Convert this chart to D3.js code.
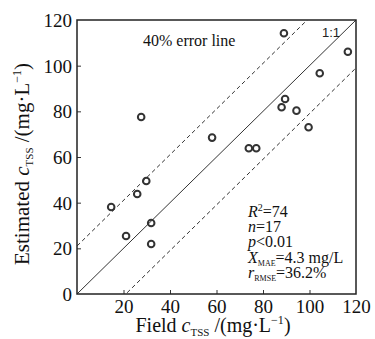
<!DOCTYPE html>
<html>
<head>
<meta charset="utf-8">
<script src="https://cdn.jsdelivr.net/npm/d3@7"></script>
</head>
<body style="margin:0;background:#fff">
<svg id="chart" width="375" height="339" font-family="Liberation Serif" style="font-family:'Liberation Serif',serif"></svg>
<script>
// field (measured) vs estimated TSS, mg/L
const fieldVals = [14.7, 21.1, 25.9, 27.6, 29.8, 31.9, 31.9, 58.1, 73.9, 77.1, 88.0, 89.5, 94.4, 99.6, 104.4, 116.5, 89.0];
const estVals   = [38.1, 25.4, 43.8, 77.5, 49.5, 31.1, 21.9, 68.5, 63.8, 63.8, 81.8, 85.4, 80.3, 73.0, 96.7, 106.1, 114.2];
const xTicks = [20, 40, 60, 80, 100, 120];
const yTicks = [0, 20, 40, 60, 80, 100, 120];
const errorOffset = 21;
const statLines = [
  ['R', '2', 'sup', '=74'],
  ['n', '', '', '=17'],
  ['p', '', '', '<0.01'],
  ['X', 'MAE', 'sub', '=4.3 mg/L'],
  ['r', 'RMSE', 'sub', '=36.2%']
];

const serif = "'Liberation Serif', serif";
const svg = d3.select('#chart');
const mLeft = 77, mRight = 356, mTop = 20, mBottom = 294;

const x = d3.scaleLinear().domain([0, 120]).range([mLeft, mRight]);
const y = d3.scaleLinear().domain([0, 120]).range([mBottom, mTop]);

const g = svg.append('g');

// clip so the diagonal lines stop at the frame
svg.append('defs').append('clipPath').attr('id', 'plotClip')
  .append('rect').attr('x', mLeft).attr('y', mTop)
  .attr('width', mRight - mLeft).attr('height', mBottom - mTop);

const lines = g.append('g').attr('clip-path', 'url(#plotClip)');
const line = d3.line().x(d => x(d[0])).y(d => y(d[1]));

lines.append('path')
  .attr('d', line([[0, 0], [120, 120]]))
  .attr('stroke', '#333').attr('stroke-width', 1).attr('fill', 'none');
[errorOffset, -errorOffset].forEach(off => {
  lines.append('path')
    .attr('d', line([[-30, -30 + off], [150, 150 + off]]))
    .attr('stroke', '#333').attr('stroke-width', 1)
    .attr('stroke-dasharray', '4,3').attr('fill', 'none');
});

// axes, inward ticks
const xAxis = d3.axisBottom(x).tickValues(xTicks).tickSizeInner(-4).tickSizeOuter(0).tickPadding(6);
const yAxis = d3.axisLeft(y).tickValues(yTicks).tickSizeInner(-4).tickSizeOuter(0).tickPadding(5);

const gx = g.append('g').attr('transform', `translate(0,${mBottom})`).call(xAxis);
const gy = g.append('g').attr('transform', `translate(${mLeft},0)`).call(yAxis);
[gx, gy].forEach(a => {
  a.attr('font-family', null).attr('font-size', 19);
  a.select('.domain').remove();
  a.selectAll('line').attr('stroke', '#333');
  a.selectAll('text').attr('fill', '#111').style('font-family', serif);
});
gx.selectAll('.tick').filter(d => d === 120).select('line').remove();
gy.selectAll('.tick').filter(d => d === 0 || d === 120).select('line').remove();
gx.selectAll('text').attr('dy', '0.71em');
gy.selectAll('text').attr('dy', '0.35em');

// frame
g.append('rect')
  .attr('x', mLeft).attr('y', mTop)
  .attr('width', mRight - mLeft).attr('height', mBottom - mTop)
  .attr('fill', 'none').attr('stroke', '#222').attr('stroke-width', 1.5);

// points
g.append('g').selectAll('circle')
  .data(fieldVals.map((v, i) => [v, estVals[i]]))
  .join('circle')
  .attr('cx', d => x(d[0])).attr('cy', d => y(d[1]))
  .attr('r', 3.3)
  .attr('fill', 'none').attr('stroke', '#333').attr('stroke-width', 2);

// annotations
g.append('text').attr('x', 143).attr('y', 46).attr('font-size', 16).attr('fill', '#111')
  .style('font-family', serif).text('40% error line');
g.append('text').attr('x', 322).attr('y', 37).attr('font-size', 13)
  .style('font-family', "'Liberation Sans', sans-serif").attr('fill', '#222').text('1:1');

const stats = g.append('text').attr('font-size', 16).attr('fill', '#111').style('font-family', serif);
statLines.forEach((s, i) => {
  stats.append('tspan').attr('x', 248).attr('y', 217 + i * 15.2)
    .attr('font-style', 'italic').text(s[0]);
  if (s[2] === 'sup') {
    stats.append('tspan').attr('font-size', 10).attr('dy', -6).text(s[1]);
    stats.append('tspan').attr('dy', 6).text(s[3]);
  } else if (s[2] === 'sub') {
    stats.append('tspan').attr('font-size', 8).attr('dy', 3).text(s[1]);
    stats.append('tspan').attr('dy', -3).text(s[3]);
  } else {
    stats.append('tspan').text(s[3]);
  }
});

// axis titles
function unitTitle(sel, lead) {
  sel.append('tspan').text(lead);
  sel.append('tspan').attr('font-style', 'italic').text('c');
  sel.append('tspan').attr('font-size', 11).attr('dy', 4).text('TSS');
  sel.append('tspan').attr('dy', -4).text(' /(mg\u00b7L');
  sel.append('tspan').attr('font-size', 12).attr('dy', -8).text('\u22121');
  sel.append('tspan').attr('dy', 8).text(')');
}
unitTitle(svg.append('text').attr('x', 213).attr('y', 332).attr('fill', '#111')
  .style('font-family', serif).attr('text-anchor', 'middle').attr('font-size', 20), 'Field ');
unitTitle(svg.append('text').attr('transform', 'translate(29,164) rotate(-90)').attr('fill', '#111')
  .style('font-family', serif).attr('text-anchor', 'middle').attr('font-size', 21), 'Estimated ');
</script>
</body>
</html>
